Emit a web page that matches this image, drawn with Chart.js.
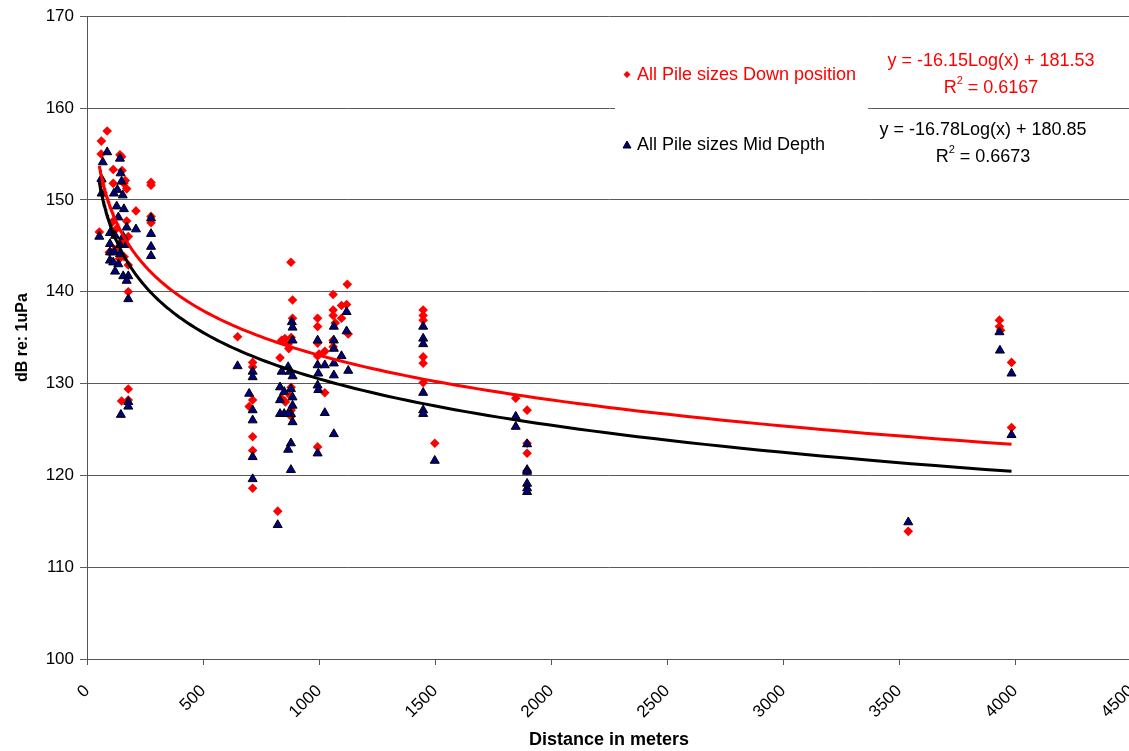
<!DOCTYPE html>
<html>
<head>
<meta charset="utf-8">
<title>Pile driving sound levels vs distance</title>
<script src="https://cdn.jsdelivr.net/npm/chart.js@4.4.1/dist/chart.umd.min.js"></script>
<style>
    html, body { margin: 0; padding: 0; background: #fff; overflow: hidden; }
    #wrap { width: 1140px; height: 751px; }
</style>
</head>
<body>
<div id="wrap"><canvas id="soundChart" width="1140" height="751"></canvas></div>
<script>
/* ── Measurements: distance (m) and level (dB re: 1uPa) ─────────── */
const downX = [
    53, 62, 61, 64, 87, 113, 142, 151, 113, 159, 171, 165, 149, 211, 171, 178,
    96, 178, 178, 276, 276, 276, 276, 110, 125, 150, 120, 140, 160, 178, 149, 178,
    649, 714, 714, 699, 714, 714, 714, 714,
    822, 879, 886, 886, 839, 853, 867, 832, 870, 880, 880, 875, 880, 880, 839, 855,
    994, 994, 994, 1025, 1000, 994, 1025, 994, 1061, 1122, 1097, 1119, 1061, 1061,
    1097, 1126, 1061, 1061, 1070,
    1449, 1449, 1449, 1449, 1449, 1449, 1499,
    1848, 1897, 1897, 1897, 1897,
    3540, 3933, 3933, 3938, 3985, 3985
];
const downY = [
    146.5, 156.4, 155.0, 152.0, 157.5, 153.3, 154.9, 153.2, 151.8, 151.8, 151.2, 152.1, 154.7, 148.8, 147.7, 146.0,
    144.3, 142.9, 140.0, 151.9, 151.6, 148.2, 147.5, 147.6, 146.8, 145.5, 144.6, 143.6, 143.8, 129.4, 128.1, 128.2,
    135.1, 132.3, 131.8, 127.5, 128.2, 124.2, 122.7, 118.6,
    116.1, 143.2, 139.1, 137.1, 134.7, 134.9, 134.3, 132.8, 133.8, 135.0, 129.6, 128.7, 127.1, 126.4, 128.4, 128.0,
    137.1, 136.2, 134.4, 133.5, 133.2, 133.0, 129.0, 123.1, 139.7, 140.8, 138.5, 138.6, 138.0, 137.4,
    137.1, 135.4, 134.7, 134.0, 136.6,
    138.0, 137.4, 136.9, 132.9, 132.2, 130.1, 123.5,
    128.4, 127.1, 123.5, 122.4, 120.5,
    113.9, 136.9, 136.2, 135.8, 132.3, 125.2
];

const midX = [
    87, 68, 62, 142, 145, 149, 131, 116, 154, 63, 128, 159, 135, 171, 211, 53,
    99, 121, 156, 99, 142, 171, 99, 118, 142, 99, 113, 135, 121, 156, 178, 171,
    178, 276, 276, 276, 276, 178, 178, 146,
    649, 714, 714, 699, 714, 714, 714, 714,
    822, 883, 886, 886, 867, 839, 874, 886, 832, 850, 832, 879, 886, 886, 879, 886,
    832, 850, 867, 879, 867, 879,
    994, 994, 997, 1025, 994, 997, 994, 1025, 1119, 1119, 1064, 1064, 1064, 1064,
    1064, 1097, 1126, 1064,
    1449, 1449, 1449, 1449, 1449, 1449, 1499,
    1848, 1848, 1897, 1897, 1897, 1897, 1897, 1897,
    3540, 3933, 3935, 3985, 3985
];
const midY = [
    155.2, 154.1, 152.3, 154.5, 152.9, 152.0, 151.1, 150.7, 150.5, 150.7, 149.3, 149.0, 148.1, 147.0, 146.8, 146.0,
    146.4, 146.1, 146.0, 145.2, 145.1, 145.1, 144.3, 144.3, 144.1, 143.4, 143.2, 143.0, 142.2, 141.7, 141.7, 141.2,
    139.2, 148.0, 146.3, 144.9, 143.9, 128.0, 127.5, 126.6,
    131.9, 131.3, 130.7, 128.9, 127.1, 126.0, 122.0, 119.6,
    114.6, 136.7, 136.1, 134.7, 131.8, 131.3, 131.3, 130.8, 129.6, 129.1, 128.2, 129.4, 128.5, 127.6, 126.7, 125.8,
    126.7, 126.7, 126.7, 123.5, 122.8, 120.6,
    134.7, 132.0, 131.1, 132.0, 129.8, 129.3, 122.4, 126.8, 137.8, 135.7, 136.2, 134.7, 133.8, 132.2,
    130.9, 133.0, 131.4, 124.5,
    136.2, 134.9, 134.3, 129.0, 127.1, 126.7, 121.6,
    126.4, 125.3, 123.4, 120.6, 120.4, 119.1, 118.6, 118.2,
    114.9, 135.6, 133.6, 131.1, 124.4
];

// Logarithmic fits as printed on the chart: y = a*Log(x) + b
const downFit = { a: -16.15, b: 181.53, r2: '0.6167' };
const midFit  = { a: -16.78, b: 180.85, r2: '0.6673' };

const seriesNames = ['All Pile sizes Down position', 'All Pile sizes Mid Depth'];
const xTicks = [0, 500, 1000, 1500, 2000, 2500, 3000, 3500, 4000, 4500];
const yTicks = [100, 110, 120, 130, 140, 150, 160, 170];

/* ── Helpers ──────────────────────────────────────────────────── */
const FONT = '"Liberation Sans", Arial, Helvetica, sans-serif';

function toPoints(xs, ys) {
    return xs.map((x, i) => ({ x: x, y: ys[i] }));
}

function fitCurve(fit, xs) {
    const lo = Math.min(...xs), hi = Math.max(...xs);
    const pts = [];
    for (let i = 0; i <= 150; i++) {
        const x = lo * Math.pow(hi / lo, i / 150);
        pts.push({ x: x, y: fit.a * Math.log10(x) + fit.b });
    }
    return pts;
}

function fitLabel(fit) {
    return 'y = ' + fit.a.toFixed(2) + 'Log(x) + ' + fit.b.toFixed(2);
}

// "R² = n" with a raised small 2, centred on cx
function drawR2(ctx, value, cx, cy, color) {
    ctx.fillStyle = color;
    ctx.textBaseline = 'middle';
    ctx.textAlign = 'left';
    ctx.font = '18px ' + FONT;
    const wR = ctx.measureText('R').width;
    const rest = ' = ' + value;
    const wRest = ctx.measureText(rest).width;
    ctx.font = '11px ' + FONT;
    const w2 = ctx.measureText('2').width;
    let x = cx - (wR + w2 + wRest) / 2;
    ctx.font = '18px ' + FONT;
    ctx.fillText('R', x, cy);
    x += wR;
    ctx.font = '11px ' + FONT;
    ctx.fillText('2', x, cy - 7);
    x += w2;
    ctx.font = '18px ' + FONT;
    ctx.fillText(rest, x, cy);
}

/* ── Legend box + trendline equations ─────────────────────────── */
const annotations = {
    id: 'annotations',
    afterDraw(chart) {
        const ctx = chart.ctx;
        ctx.save();

        // white legend panel sitting over the gridline
        ctx.fillStyle = '#fff';
        ctx.fillRect(615, 48, 253, 122);

        ctx.font = '18px ' + FONT;
        ctx.textBaseline = 'middle';
        ctx.textAlign = 'left';

        // Down position entry
        ctx.fillStyle = '#ff0000';
        ctx.beginPath();
        ctx.moveTo(627, 71); ctx.lineTo(630.5, 74.5); ctx.lineTo(627, 78); ctx.lineTo(623.5, 74.5);
        ctx.closePath(); ctx.fill();
        ctx.fillText(seriesNames[0], 637, 75);

        // Mid depth entry
        ctx.fillStyle = '#000080';
        ctx.strokeStyle = '#000';
        ctx.lineWidth = 1;
        ctx.beginPath();
        ctx.moveTo(627, 141); ctx.lineTo(631, 148); ctx.lineTo(623, 148);
        ctx.closePath(); ctx.fill(); ctx.stroke();
        ctx.fillStyle = '#000';
        ctx.fillText(seriesNames[1], 637, 145);

        // fit equations
        ctx.textAlign = 'center';
        ctx.fillStyle = '#ff0000';
        ctx.fillText(fitLabel(downFit), 991, 61);
        drawR2(ctx, downFit.r2, 991, 88, '#ff0000');

        ctx.textAlign = 'center';
        ctx.fillStyle = '#000';
        ctx.font = '18px ' + FONT;
        ctx.fillText(fitLabel(midFit), 983, 130);
        drawR2(ctx, midFit.r2, 983, 157, '#000');

        ctx.restore();
    }
};

/* ── Chart ────────────────────────────────────────────────────── */
Chart.defaults.font.family = FONT;
Chart.defaults.font.size = 17;
Chart.defaults.color = '#000';

new Chart(document.getElementById('soundChart'), {
    type: 'scatter',
    data: {
        datasets: [
            {
                label: 'Down fit',
                data: fitCurve(downFit, downX),
                showLine: true,
                borderColor: '#ff0000',
                borderWidth: 3,
                pointRadius: 0,
                order: 0
            },
            {
                label: 'Mid fit',
                data: fitCurve(midFit, midX),
                showLine: true,
                borderColor: '#000',
                borderWidth: 3,
                pointRadius: 0,
                order: 1
            },
            {
                label: seriesNames[1],
                data: toPoints(midX, midY),
                pointStyle: 'triangle',
                pointRadius: 5.2,
                backgroundColor: '#000080',
                borderColor: '#000',
                borderWidth: 1,
                order: 2
            },
            {
                label: seriesNames[0],
                data: toPoints(downX, downY),
                pointStyle: 'rectRot',
                pointRadius: 4.8,
                backgroundColor: '#ff0000',
                borderColor: '#ff0000',
                borderWidth: 0,
                order: 3
            }
        ]
    },
    options: {
        responsive: false,
        devicePixelRatio: 1,
        animation: false,
        layout: { padding: { top: 16, right: 9, left: 0, bottom: 0 } },
        plugins: {
            legend: { display: false },
            tooltip: { enabled: false }
        },
        scales: {
            x: {
                type: 'linear',
                min: xTicks[0],
                max: xTicks[xTicks.length - 1],
                afterBuildTicks: s => { s.ticks = xTicks.map(v => ({ value: v })); },
                afterFit: s => { s.height = 92; s.paddingLeft = 0; s.paddingRight = 0; },
                ticks: {
                    minRotation: 45,
                    maxRotation: 45,
                    padding: 16,
                    font: { size: 17 },
                    callback: v => String(v)
                },
                grid: { drawOnChartArea: false, drawTicks: true, tickLength: 6, color: '#555' },
                border: { color: '#555', width: 1 },
                title: {
                    display: true,
                    text: 'Distance in meters',
                    font: { size: 18, weight: 'bold' },
                    padding: { top: 4, bottom: 0 }
                }
            },
            y: {
                min: yTicks[0],
                max: yTicks[yTicks.length - 1],
                afterBuildTicks: s => { s.ticks = yTicks.map(v => ({ value: v })); },
                afterFit: s => { s.width = 87; },
                ticks: { padding: 6, font: { size: 17 }, callback: v => String(v) },
                grid: { color: '#5a5a5a', tickLength: 7, lineWidth: 1 },
                border: { color: '#555', width: 1 },
                title: {
                    display: true,
                    text: 'dB re: 1uPa',
                    font: { size: 16, weight: 'bold' },
                    padding: { top: 13, bottom: 0 }
                }
            }
        }
    },
    plugins: [annotations]
});
</script>
</body>
</html>
